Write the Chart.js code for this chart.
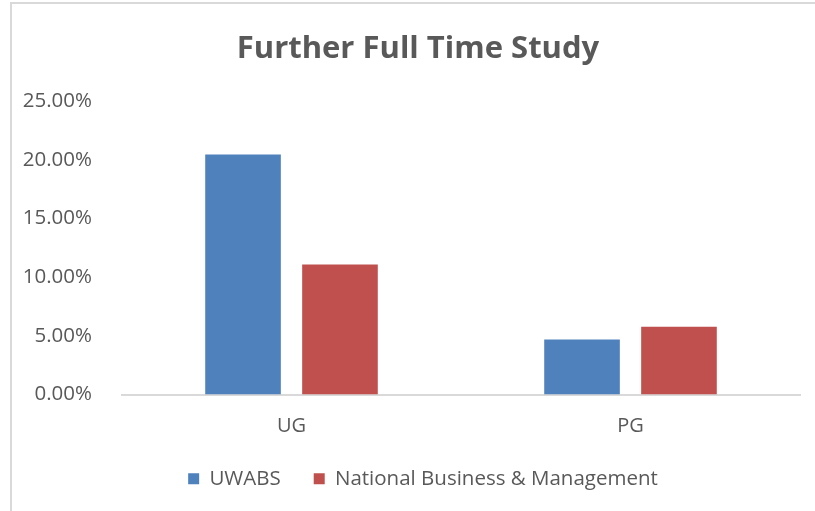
<!DOCTYPE html>
<html lang="en">
<head>
    <meta charset="UTF-8">
    <title>Further Full Time Study</title>
    <style>
        body { margin: 0; background: #fff; }
        #wrap { position: relative; width: 815px; height: 511px; overflow: hidden; }
        #frame {
            position: absolute; left: 10px; top: 2px; width: 900px; height: 600px;
            border-left: 2px solid #d9d9d9; border-top: 2px solid #d9d9d9;
        }
        canvas { position: absolute; left: 0; top: 0; }
    </style>
</head>
<body>
    <div id="wrap">
        <div id="frame"></div>
        <canvas id="chart" width="815" height="511"></canvas>
    </div>

    <script src="https://cdn.jsdelivr.net/npm/chart.js"></script>
    <script>
        // data
        const categories = ['UG', 'PG'];
        const seriesNames = ['UWABS', 'National Business & Management'];
        const uwabs = [0.2045, 0.0468];
        const national = [0.1108, 0.0578];
        const yTicks = [0, 0.05, 0.10, 0.15, 0.20, 0.25];

        const textColor = '#595959';
        const fontFamily = '"Open Sans", sans-serif';

        // the original centres title and legend a bit right of the plot area
        const nudgeBoxes = {
            id: 'nudgeBoxes',
            afterLayout(chart) {
                chart.titleBlock.left += 24;
                chart.legend.left += 34;
            }
        };

        const ctx = document.getElementById('chart').getContext('2d');
        new Chart(ctx, {
            type: 'bar',
            data: {
                labels: categories,
                datasets: [
                    { label: seriesNames[0], data: uwabs, backgroundColor: '#4F81BD' },
                    { label: seriesNames[1], data: national, backgroundColor: '#C0504D' }
                ]
            },
            options: {
                responsive: false,
                animation: false,
                datasets: { bar: { categoryPercentage: 0.572, barPercentage: 0.78 } },
                layout: { padding: { left: 12, right: 15, top: 0, bottom: 12 } },
                plugins: {
                    title: {
                        display: true,
                        text: 'Further Full Time Study',
                        color: textColor,
                        font: { family: fontFamily, size: 31, weight: 'bold' },
                        padding: { top: 31, bottom: 33 }
                    },
                    legend: {
                        position: 'bottom',
                        labels: {
                            color: textColor,
                            font: { family: fontFamily, size: 20.5 },
                            boxWidth: 11,
                            boxHeight: 11,
                            padding: 33
                        }
                    },
                    tooltip: { enabled: false }
                },
                scales: {
                    y: {
                        min: 0,
                        max: 0.25,
                        afterBuildTicks: (scale) => { scale.ticks = yTicks.map(v => ({ value: v })); },
                        afterFit: (scale) => { scale.width = 110; },
                        grid: { display: false },
                        border: { display: false },
                        ticks: {
                            color: textColor,
                            font: { family: fontFamily, size: 20.5 },
                            padding: 22,
                            callback: (v) => (v * 100).toFixed(2) + '%'
                        }
                    },
                    x: {
                        afterFit: (scale) => { scale.height = 41; },
                        grid: { display: false },
                        border: { display: true, color: '#d9d9d9', width: 2 },
                        ticks: {
                            color: textColor,
                            font: { family: fontFamily, size: 20 },
                            padding: 12
                        }
                    }
                }
            },
            plugins: [nudgeBoxes]
        });
    </script>
</body>
</html>
